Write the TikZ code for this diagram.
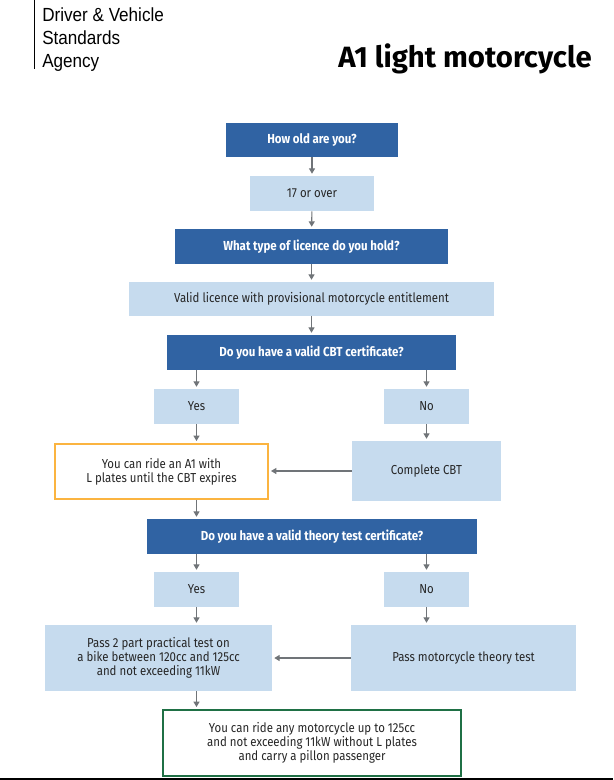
\documentclass[tikz,border=0pt]{standalone}
\usepackage{fontspec}
\setmainfont{Fira Sans}[FakeStretch=0.88]
\newfontfamily\agencyfont{Liberation Sans}[FakeStretch=0.9]
\newfontfamily\titlefont{Fira Sans}
\usetikzlibrary{arrows.meta}
\definecolor{darkblue}{RGB}{48,99,163}
\definecolor{paleblue}{RGB}{198,219,238}
\definecolor{ridebox}{RGB}{251,180,64}
\definecolor{finalbox}{RGB}{31,112,69}
\definecolor{flowgrey}{RGB}{112,116,120}

\begin{document}
\begin{tikzpicture}[x=0.75pt,y=0.75pt,yscale=-1,xscale=1,
  boxsize/.style 2 args={minimum width=#1*0.75pt,minimum height=#2*0.75pt},
  question/.style={fill=darkblue,text=white,inner sep=0pt,font=\fontsize{9.8}{12}\selectfont\bfseries},
  answer/.style={fill=paleblue,text=black!85,inner sep=0pt,align=center,font=\fontsize{9.75}{10.5}\selectfont},
  outcome/.style={fill=white,text=black!85,inner sep=0pt,line width=1.5pt,align=center,font=\fontsize{9.75}{10.5}\selectfont},
  flow/.style={draw=flowgrey,line width=0.8pt,shorten >=1.5pt,-{Triangle[length=4pt,width=4.5pt]}}]
\useasboundingbox (0,0) rectangle (613,780);
%Straight Lines: agency rule
\draw [line width=1.1pt] (34.5,0) -- (34.5,69) ;
% Text Node
\node (agency) [anchor=north west,inner sep=0pt,align=left,font=\agencyfont\fontsize{14.25}{17.6}\selectfont] at (42,7) {Driver \& Vehicle\\Standards\\Agency};
% Text Node
\node (title) [anchor=base east,inner sep=0pt,font=\titlefont\fontsize{22}{26}\selectfont\bfseries] at (592,68) {A1 light motorcycle};
% Boxes
\node (how) [question,boxsize={172}{34}] at (312,140) {How old are you?};
\node (age) [answer,boxsize={124}{35}] at (312,193.5) {17 or over};
\node (licence) [question,boxsize={273}{35}] at (311.5,246.5) {What type of licence do you hold?};
\node (valid) [answer,boxsize={365}{34}] at (311.5,299) {Valid licence with provisional motorcycle entitlement};
\node (cbt) [question,boxsize={289}{35}] at (311.5,352.5) {Do you have a valid CBT certificate?};
\node (yesA) [answer,boxsize={85}{35}] at (196.5,406.5) {Yes};
\node (noA) [answer,boxsize={85}{35}] at (426.5,406.5) {No};
\node (ride) [outcome,draw=ridebox,boxsize={213}{55}] at (161.5,471.5) {You can ride an A1 with\\L plates until the CBT expires};
\node (complete) [answer,boxsize={149}{60}] at (426.5,471) {Complete CBT};
\node (theory) [question,boxsize={330}{35}] at (312,536.5) {Do you have a valid theory test certificate?};
\node (yesB) [answer,boxsize={85}{35}] at (196.5,589.5) {Yes};
\node (noB) [answer,boxsize={85}{35}] at (426.5,589.5) {No};
\node (practical) [answer,boxsize={227}{66}] at (158.5,658) {Pass 2 part practical test on\\a bike between 120cc and 125cc\\and not exceeding 11kW};
\node (theorytest) [answer,boxsize={225}{66}] at (463.5,658) {Pass motorcycle theory test};
\node (final) [outcome,draw=finalbox,boxsize={298}{66}] at (312,743) {You can ride any motorcycle up to 125cc\\and not exceeding 11kW without L plates\\and carry a pillon passenger};
% Connectors
\draw [flow] (how) -- (age);
\draw [flow] (age) -- (licence);
\draw [flow] (licence) -- (valid);
\draw [flow] (valid) -- (cbt);
\draw [flow] (cbt.south -| yesA) -- (yesA);
\draw [flow] (cbt.south -| noA) -- (noA);
\draw [flow] (yesA) -- (yesA |- ride.north);
\draw [flow] (noA) -- (complete);
\draw [flow] (complete.west) -- (complete.west -| ride.east);
\draw [flow] (ride.south -| yesA) -- (theory.north -| yesA);
\draw [flow] (theory.south -| yesB) -- (yesB);
\draw [flow] (theory.south -| noB) -- (noB);
\draw [flow] (yesB) -- (yesB |- practical.north);
\draw [flow] (noB) -- (noB |- theorytest.north);
\draw [flow] (theorytest.west) -- (practical.east);
\draw [flow] (practical.south -| yesB) -- (final.north -| yesB);
%Straight Lines: foot rule
\draw [line width=1.1pt] (0,779) -- (613,779) ;
\end{tikzpicture}
\end{document}
